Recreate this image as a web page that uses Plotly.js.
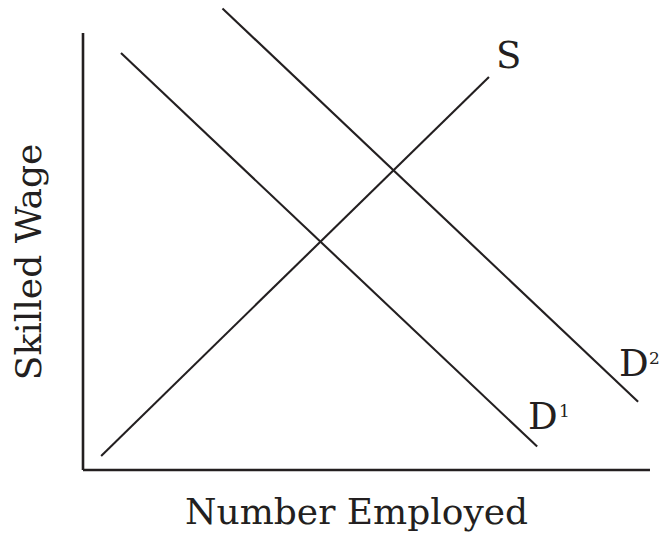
<!DOCTYPE html>
<html>
<head>
<meta charset="utf-8">
<script src="https://cdn.plot.ly/plotly-3.0.1.min.js"></script>
<style>html,body{margin:0;padding:0;background:#fff;}#chart{width:661px;height:537px;}</style>
</head>
<body>
<div id="chart"></div>
<script>
// Curve endpoints in abstract "quantity" (x) and "wage" (y) units
const supplyX = [0.32, 7.16];
const supplyY = [0.30, 8.36];
const demand1X = [0.67, 8.01];
const demand1Y = [8.87, 0.50];
const demand2X = [2.46, 9.79];
const demand2Y = [9.82, 1.45];
const axisXLineX = [0, 10];
const axisXLineY = [0, 0];
const axisYLineX = [0, 0];
const axisYLineY = [0, 9.30];
const curveLabels = ['S', 'D', 'D'];
const labelX = [7.50, 8.11, 9.71];
const labelY = [8.81, 1.13, 2.26];
const supLabels = ['1', '2'];
const supX = [8.49, 10.08];
const supY = [1.26, 2.39];
const xTitle = 'Number Employed';
const yTitle = 'Skilled Wage';

const ink = '#231f20';
const font = 'DejaVu Serif, Liberation Serif, serif';

function line(x, y, w) {
  return {x: x, y: y, type: 'scatter', mode: 'lines', hoverinfo: 'skip',
          line: {color: ink, width: w}, showlegend: false};
}

const data = [
  line(axisXLineX, axisXLineY, 2.6),
  line(axisYLineX, axisYLineY, 2.6),
  line(supplyX, supplyY, 2.1),
  line(demand1X, demand1Y, 2.1),
  line(demand2X, demand2Y, 2.1)
];

const annotations = curveLabels.map((t, i) => ({
  x: labelX[i], y: labelY[i], xref: 'x', yref: 'y', text: t, showarrow: false,
  xanchor: 'center', yanchor: 'middle',
  font: {family: font, size: 37, color: ink}
}));
supLabels.forEach((t, i) => annotations.push({
  x: supX[i], y: supY[i], xref: 'x', yref: 'y', text: t, showarrow: false,
  xanchor: 'center', yanchor: 'middle',
  font: {family: font, size: 17, color: ink}
}));
annotations.push({x: 0.487, y: -0.073, xref: 'paper', yref: 'paper', text: xTitle, showarrow: false,
  xanchor: 'center', yanchor: 'middle', font: {family: font, size: 36, color: ink}});
annotations.push({x: -0.074, y: 0.452, xref: 'paper', yref: 'paper', text: yTitle, showarrow: false,
  textangle: -90, xanchor: 'center', yanchor: 'middle', font: {family: font, size: 36, color: ink}});

const layout = {
  width: 661, height: 537,
  margin: {l: 72, r: 5, t: 0, b: 60},
  paper_bgcolor: '#fff', plot_bgcolor: '#fff',
  xaxis: {range: [-0.194, 10.106], showgrid: false, zeroline: false, showticklabels: false, ticks: '', showline: false, fixedrange: true},
  yaxis: {range: [-0.149, 10], showgrid: false, zeroline: false, showticklabels: false, ticks: '', showline: false, fixedrange: true},
  annotations: annotations
};

Plotly.newPlot('chart', data, layout, {displayModeBar: false, staticPlot: true});
</script>
</body>
</html>
